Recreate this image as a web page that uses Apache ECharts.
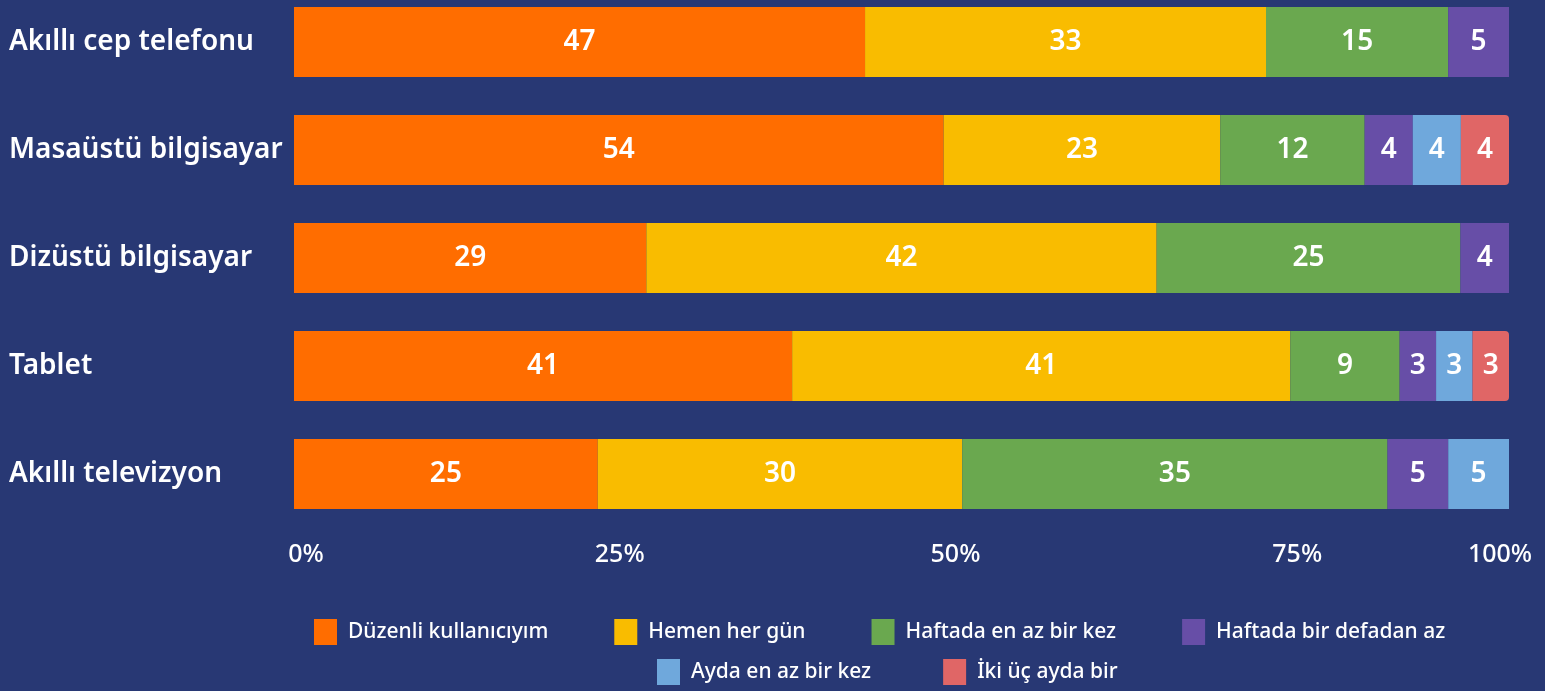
<!DOCTYPE html>
<html>
<head>
<meta charset="utf-8">
<script src="https://cdn.jsdelivr.net/npm/echarts@6/dist/echarts.min.js"></script>
<style>
  html, body { margin: 0; padding: 0; background: #283874; }
  #chart { width: 1545px; height: 691px; }
</style>
</head>
<body>
<div id="chart"></div>
<script>
const categories = [
  "Akıllı cep telefonu",
  "Masaüstü bilgisayar",
  "Dizüstü bilgisayar",
  "Tablet",
  "Akıllı televizyon",
];
const seriesNames = [
  "Düzenli kullanıcıyım",
  "Hemen her gün",
  "Haftada en az bir kez",
  "Haftada bir defadan az",
  "Ayda en az bir kez",
  "İki üç ayda bir",
];
const colors = ["#ff6d00", "#f9bc00", "#6aa84f", "#674ea7", "#6fa8dc", "#e06666"];
// one row per series, one value per category (null = not shown)
const regular = [47, 54, 29, 41, 25];
const almostDaily = [33, 23, 42, 41, 30];
const weekly = [15, 12, 25, 9, 35];
const lessThanWeekly = [5, 4, 4, 3, 5];
const monthly = [null, 4, null, 3, 5];
const bimonthly = [null, 4, null, 3, null];
const xTicks = ["0%", "25%", "50%", "75%", "100%"];

const values = [regular, almostDaily, weekly, lessThanWeekly, monthly, bimonthly];
const rowTotals = categories.map((_, i) =>
  values.reduce((s, arr) => s + (arr[i] || 0), 0)
);

// label shifts to mimic the reference tick label placement: [left, right]
const tickPad = [[24, 0], [44, 0], [108, 0], [184, 0], [0, 18]];

const font = "'Noto Sans', sans-serif";
const chart = echarts.init(document.getElementById("chart"));

const series = values.map((arr, s) => ({
  name: seriesNames[s],
  type: "bar",
  stack: "total",
  barWidth: 70,
  itemStyle: {
    color: colors[s],
    borderRadius: s === 5 ? [0, 4, 4, 0] : 0,
  },
  label: {
    show: true,
    position: "inside",
    color: "#fff",
    fontSize: 28,
    fontWeight: 600,
    fontFamily: font,
    formatter: (p) => arr[p.dataIndex],
  },
  data: arr.map((v, i) => (v == null ? null : (v / rowTotals[i]) * 100)),
}));

const legendText = {
  color: "#fff",
  fontSize: 21,
  fontFamily: font,
  fontWeight: 500,
  padding: [0, 0, 0, 6],
};

chart.setOption({
  backgroundColor: "#283874",
  animation: false,
  grid: { left: 294, right: 36, top: 42, bottom: 217 },
  xAxis: {
    type: "value",
    min: 0,
    max: 100,
    interval: 25,
    splitLine: { show: false },
    axisLine: { show: false },
    axisTick: { show: false },
    axisLabel: {
      margin: 68,
      color: "#fff",
      fontSize: 25,
      fontFamily: font,
      fontWeight: 500,
      formatter: (v) => "{t" + v / 25 + "|" + xTicks[v / 25] + "}",
      rich: Object.fromEntries(
        xTicks.map((t, i) => [
          "t" + i,
          {
            color: "#fff",
            fontSize: 25,
            fontFamily: font,
            fontWeight: 500,
            padding: [0, tickPad[i][1], 0, tickPad[i][0]],
          },
        ])
      ),
      alignMinLabel: "center",
      alignMaxLabel: "center",
    },
  },
  yAxis: {
    type: "category",
    inverse: true,
    boundaryGap: false,
    data: categories,
    axisLine: { show: false },
    axisTick: { show: false },
    axisLabel: {
      align: "left",
      margin: 285,
      color: "#fff",
      fontSize: 28,
      fontWeight: 600,
      fontFamily: font,
    },
  },
  legend: [
    {
      data: seriesNames.slice(0, 4),
      left: 314,
      top: 619,
      padding: 0,
      itemWidth: 23,
      itemHeight: 26,
      itemGap: 66,
      icon: "rect",
      textStyle: legendText,
    },
    {
      data: seriesNames.slice(4),
      left: 657,
      top: 659,
      padding: 0,
      itemWidth: 23,
      itemHeight: 26,
      itemGap: 72,
      icon: "rect",
      textStyle: legendText,
    },
  ],
  series: series,
});
</script>
</body>
</html>
